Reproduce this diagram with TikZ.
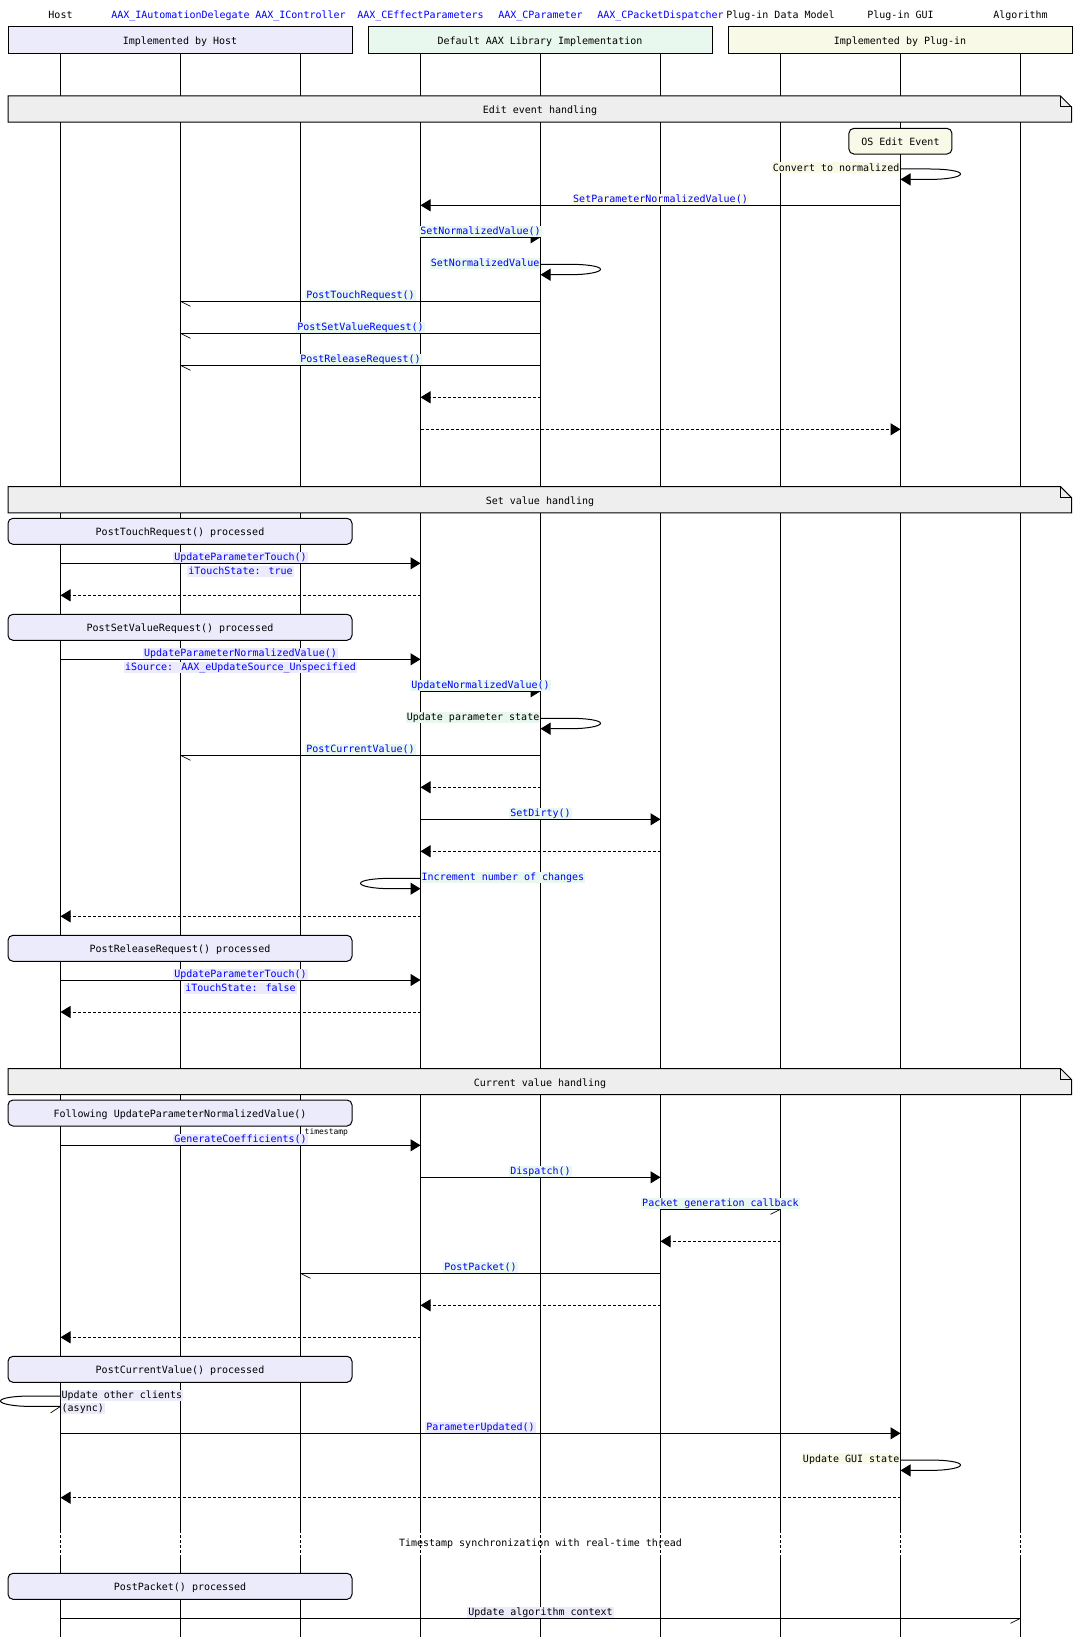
\documentclass[tikz,border=0pt]{standalone}
\usepackage{fontspec}
\setmainfont{DejaVu Sans Mono}
\usetikzlibrary{arrows.meta}
\definecolor{hostbg}{HTML}{EBEBFC}
\definecolor{libbg}{HTML}{E8F8EE}
\definecolor{plugbg}{HTML}{F9F9E8}
\definecolor{secbg}{HTML}{EEEEEE}
\definecolor{msgblue}{HTML}{0000FF}
\tikzset{
  life/.style={line width=1pt},
  filltip/.style={-{Triangle[length=10pt,width=12pt]}},
  msgline/.style={line width=1pt, filltip},
  retline/.style={line width=1pt, dash pattern=on 3pt off 2pt, filltip},
  asyncl/.style={line width=1pt},
  barbline/.style={line width=0.7pt},
  lbl/.style={fill=#1, inner xsep=1pt, inner ysep=0.5pt, text height=8.5pt, text depth=1.5pt},
  grp/.style={draw, line width=1pt, minimum width=344pt, minimum height=27pt},
  notebox/.style={draw, line width=1pt, fill=hostbg, rounded corners=5pt, minimum width=344pt, minimum height=26pt},
}
% #1 name, #2 style, #3 from, #4 to, #5 y, #6 bg, #7 colour, #8 text
\newcommand\seqmsg[8]{%
  \draw[#2] (#3 |- 0,#5) -- (#4 |- 0,#5) node[midway, yshift=6pt, lbl=#6, text=#7, name=#1] {#8};}
% #1 lifeline, #2 y, #3 dx
\newcommand\halfbarb[3]{\draw[barbline] (#1 |- 0,#2) -- ++(#3,5);}
% #1 lifeline, #2 top y, #3 xscale, #4 tip
\newcommand\selfloop[4]{%
  \begin{scope}[shift={(#1 |- 0,#2)}, xscale=#3]
    \draw[line width=1pt, #4] (0,0) -- (30,0) .. controls (46,0) and (60,2) .. (60,5)
      .. controls (60,8) and (46,10.4) .. (30,10.4) -- (0,10.4);
  \end{scope}}
% #1 name, #2 top, #3 bottom, #4 text
\newcommand\secbar[4]{%
  \filldraw[line width=1pt, fill=secbg] (8,#2) -- (1060.5,#2) -- (1071.5,#2+11) -- (1071.5,#3) -- (8,#3) -- cycle;
  \draw[line width=1pt] (1060.5,#2) -- (1060.5,#2+11) -- (1071.5,#2+11);
  \node (#1) at (540,{(#2+#3)/2}) {#4};}
\begin{document}
\begin{tikzpicture}[x=1pt,y=-1pt,
  every node/.style={font=\fontsize{10}{12}\selectfont, text height=9.5pt, text depth=0.5pt, inner sep=0pt}]
\useasboundingbox (0,0) rectangle (1080,1637);
\fill[white] (0,0) rectangle (1080,1637);
\foreach \i in {0,...,8}{\coordinate (L\i) at ({60.5+120*\i},0);}
% lifelines
\foreach \i in {0,...,8}{
  \draw[life] (L\i |- 0,54) -- (L\i |- 0,1530);
  \draw[life, dash pattern=on 3pt off 2pt] (L\i |- 0,1530) -- (L\i |- 0,1555);
  \draw[life] (L\i |- 0,1555) -- (L\i |- 0,1637);
}
% participants
\node (P0) at (L0 |- 0,14.3) {Host};
\node[text=msgblue] (P1) at (L1 |- 0,14.3) {AAX\_IAutomationDelegate};
\node[text=msgblue] (P2) at (L2 |- 0,14.3) {AAX\_IController};
\node[text=msgblue] (P3) at (L3 |- 0,14.3) {AAX\_CEffectParameters};
\node[text=msgblue] (P4) at (L4 |- 0,14.3) {AAX\_CParameter};
\node[text=msgblue] (P5) at (L5 |- 0,14.3) {AAX\_CPacketDispatcher};
\node (P6) at (L6 |- 0,14.3) {Plug-in Data Model};
\node (P7) at (L7 |- 0,14.3) {Plug-in GUI};
\node (P8) at (L8 |- 0,14.3) {Algorithm};
% groups
\node[grp, fill=hostbg] (G1) at (180,40.5) {Implemented by Host};
\node[grp, fill=libbg] (G2) at (540,40.5) {Default AAX Library Implementation};
\node[grp, fill=plugbg] (G3) at (900,40.5) {Implemented by Plug-in};

% ---------------- Edit event handling
\secbar{S1}{96}{122.2}{Edit event handling}
\node[notebox, fill=plugbg, minimum width=103pt, minimum height=25.7pt] (N0) at (900.4,141.2) {OS Edit Event};
\selfloop{L7}{169}{1}{filltip}
\node[lbl=plugbg, anchor=east] (c1) at (L7 |- 0,167.8) {Convert to normalized};
\seqmsg{m1}{msgline}{L7}{L3}{205.3}{plugbg}{msgblue}{SetParameterNormalizedValue()}
\seqmsg{m2}{msgline}{L3}{L4}{237.3}{libbg}{msgblue}{SetNormalizedValue()}
\selfloop{L4}{264.3}{1}{filltip}
\node[lbl=libbg, anchor=east, text=msgblue] (c2) at (L4 |- 0,263.1) {SetNormalizedValue};
\seqmsg{m3}{asyncl}{L4}{L1}{301.3}{libbg}{msgblue}{PostTouchRequest()}
\halfbarb{L1}{301.3}{10}
\seqmsg{m4}{asyncl}{L4}{L1}{333.3}{libbg}{msgblue}{PostSetValueRequest()}
\halfbarb{L1}{333.3}{10}
\seqmsg{m5}{asyncl}{L4}{L1}{365.3}{libbg}{msgblue}{PostReleaseRequest()}
\halfbarb{L1}{365.3}{10}
\draw[retline] (L4 |- 0,397.3) -- (L3 |- 0,397.3);
\draw[retline] (L3 |- 0,429.3) -- (L7 |- 0,429.3);

% ---------------- Set value handling
\secbar{S2}{486.7}{512.8}{Set value handling}
\node[notebox] (N1) at (180,531.3) {PostTouchRequest() processed};
\seqmsg{m6}{msgline}{L0}{L3}{563.3}{hostbg}{msgblue}{UpdateParameterTouch()}
\node[lbl=hostbg, text=msgblue] (m6b) at (240.5,571.3) {iTouchState: true};
\draw[retline] (L3 |- 0,595.3) -- (L0 |- 0,595.3);
\node[notebox] (N2) at (180,627.3) {PostSetValueRequest() processed};
\seqmsg{m7}{msgline}{L0}{L3}{659.3}{hostbg}{msgblue}{UpdateParameterNormalizedValue()}
\node[lbl=hostbg, text=msgblue] (m7b) at (240.5,667.3) {iSource: AAX\_eUpdateSource\_Unspecified};
\seqmsg{m8}{msgline}{L3}{L4}{691.3}{libbg}{msgblue}{UpdateNormalizedValue()}
\selfloop{L4}{718.3}{1}{filltip}
\node[lbl=libbg, anchor=east] (c3) at (L4 |- 0,717.1) {Update parameter state};
\seqmsg{m9}{asyncl}{L4}{L1}{755.3}{libbg}{msgblue}{PostCurrentValue()}
\halfbarb{L1}{755.3}{10}
\draw[retline] (L4 |- 0,787.3) -- (L3 |- 0,787.3);
\seqmsg{m10}{msgline}{L3}{L5}{819.3}{libbg}{msgblue}{SetDirty()}
\draw[retline] (L5 |- 0,851.3) -- (L3 |- 0,851.3);
\selfloop{L3}{878.3}{-1}{filltip}
\node[lbl=libbg, anchor=west, text=msgblue] (c4) at (L3 |- 0,877.1) {Increment number of changes};
\draw[retline] (L3 |- 0,916.3) -- (L0 |- 0,916.3);
\node[notebox] (N3) at (180,948.3) {PostReleaseRequest() processed};
\seqmsg{m11}{msgline}{L0}{L3}{980}{hostbg}{msgblue}{UpdateParameterTouch()}
\node[lbl=hostbg, text=msgblue] (m11b) at (240.5,988) {iTouchState: false};
\draw[retline] (L3 |- 0,1012) -- (L0 |- 0,1012);

% ---------------- Current value handling
\secbar{S3}{1068.5}{1094.6}{Current value handling}
\node[notebox] (N4) at (180,1113) {Following UpdateParameterNormalizedValue()};
\seqmsg{m12}{msgline}{L0}{L3}{1145.3}{hostbg}{msgblue}{GenerateCoefficients()}
\node[anchor=west, font=\fontsize{8}{9}\selectfont, text height=6pt, text depth=2pt] (ts) at (304.5,1132.3) {timestamp};
\seqmsg{m13}{msgline}{L3}{L5}{1177.3}{libbg}{msgblue}{Dispatch()}
\seqmsg{m14}{asyncl}{L5}{L6}{1209.3}{libbg}{msgblue}{Packet generation callback}
\halfbarb{L6}{1209.3}{-10}
\draw[retline] (L6 |- 0,1241.3) -- (L5 |- 0,1241.3);
\seqmsg{m15}{asyncl}{L5}{L2}{1273.3}{libbg}{msgblue}{PostPacket()}
\halfbarb{L2}{1273.3}{10}
\draw[retline] (L5 |- 0,1305.3) -- (L3 |- 0,1305.3);
\draw[retline] (L3 |- 0,1337.3) -- (L0 |- 0,1337.3);
\node[notebox] (N5) at (180,1369.3) {PostCurrentValue() processed};
\selfloop{L0}{1396}{-1}{}
\draw[barbline] (L0 |- 0,1406.4) -- ++(-10,6.5);
\node[lbl=hostbg, anchor=west] (c5) at (L0 |- 0,1395.3) {Update other clients};
\node[lbl=hostbg, anchor=west] (c5b) at (L0 |- 0,1408.3) {(async)};
\seqmsg{m16}{msgline}{L0}{L7}{1433.3}{hostbg}{msgblue}{ParameterUpdated()}
\selfloop{L7}{1460}{1}{filltip}
\node[lbl=plugbg, anchor=east] (c6) at (L7 |- 0,1458.8) {Update GUI state};
\draw[retline] (L7 |- 0,1497.7) -- (L0 |- 0,1497.7);
\node (dl) at (540.5,1542.3) {Timestamp synchronization with real-time thread};
\node[notebox] (N6) at (180,1586.3) {PostPacket() processed};
\seqmsg{m17}{asyncl}{L0}{L8}{1618.3}{hostbg}{black}{Update algorithm context}
\halfbarb{L8}{1618.3}{-10}
\end{tikzpicture}
\end{document}
